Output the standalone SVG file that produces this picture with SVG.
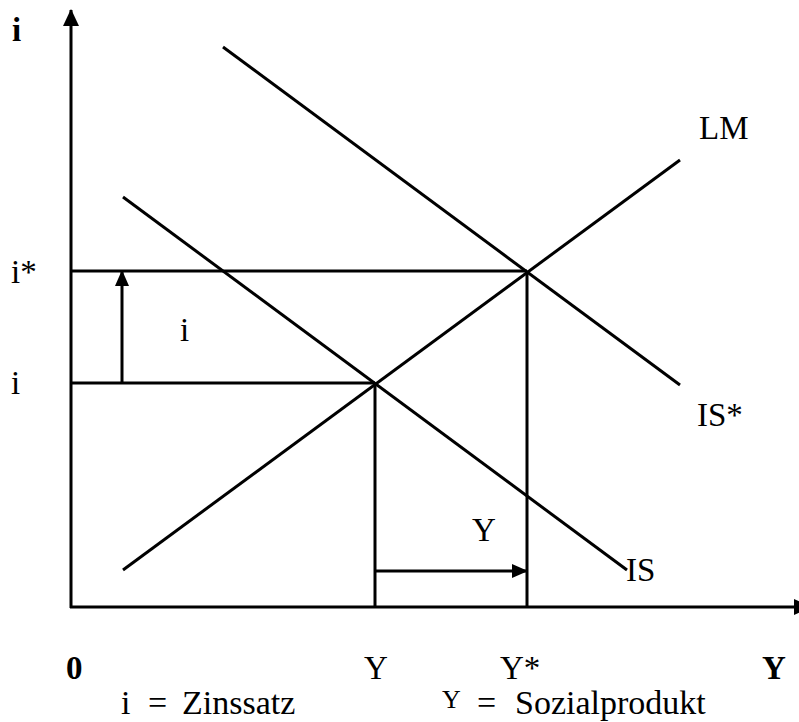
<svg xmlns="http://www.w3.org/2000/svg" width="799" height="722" viewBox="0 0 799 722">
<style>
.ln{stroke:#000;stroke-width:3;fill:none}
.t{font-family:"Liberation Serif","Times New Roman",serif;font-size:33px;fill:#000}
.b{font-weight:bold}
.lg{font-size:34px}
</style>
<defs>
<marker id="ah" markerWidth="16" markerHeight="14" refX="15" refY="7" orient="auto" markerUnits="userSpaceOnUse" viewBox="0 0 16 14">
<path d="M0,0 L16,7 L0,14 Z" fill="#000"/>
</marker>
<marker id="axh" markerWidth="17" markerHeight="16" refX="16" refY="8" orient="auto" markerUnits="userSpaceOnUse" viewBox="0 0 17 16">
<path d="M0,0 L17,8 L0,16 Z" fill="#000"/>
</marker>
</defs>
<rect width="799" height="722" fill="#fff"/>
<g id="axes">
<line class="ln" x1="71" y1="608" x2="71" y2="10" marker-end="url(#axh)"/>
<line class="ln" x1="70" y1="607" x2="810" y2="607" marker-end="url(#axh)"/>
</g>
<g id="connectors">
<line id="IS-star" class="ln" x1="223" y1="47" x2="680" y2="385"/>
<line id="LM" class="ln" x1="123" y1="570" x2="680" y2="160"/>
<line id="IS" class="ln" x1="123" y1="197" x2="627" y2="570"/>
<line class="ln" x1="71" y1="271" x2="527" y2="271"/>
<line class="ln" x1="527" y1="271" x2="527" y2="607"/>
<line class="ln" x1="71" y1="383" x2="375" y2="383"/>
<line class="ln" x1="375" y1="383" x2="375" y2="607"/>
<line class="ln" x1="122" y1="383" x2="122" y2="271" marker-end="url(#ah)"/>
<line class="ln" x1="375" y1="571" x2="527" y2="571" marker-end="url(#ah)"/>
</g>
<g id="labels">
<text class="t b" x="12" y="41">i</text>
<text class="t" x="11" y="283">i*</text>
<text class="t" x="11" y="394">i</text>
<text class="t" x="180" y="341">i</text>
<text class="t" x="699" y="139">LM</text>
<text class="t" x="697" y="426">IS*</text>
<text class="t" x="472" y="541">Y</text>
<text class="t" x="626" y="581">IS</text>
<text class="t b" x="66" y="679">0</text>
<text class="t" x="364" y="679">Y</text>
<text class="t" x="500" y="679">Y*</text>
<text class="t b" x="762" y="679">Y</text>
</g>
<g id="legend">
<text class="t lg" x="121" y="714">i</text>
<text class="t lg" x="148" y="714">=</text>
<text class="t lg" x="182" y="714">Zinssatz</text>
<text class="t" x="442" y="708" style="font-size:26px">Y</text>
<text class="t lg" x="477" y="714">=</text>
<text class="t lg" x="515" y="714">Sozialprodukt</text>
</g>
</svg>
